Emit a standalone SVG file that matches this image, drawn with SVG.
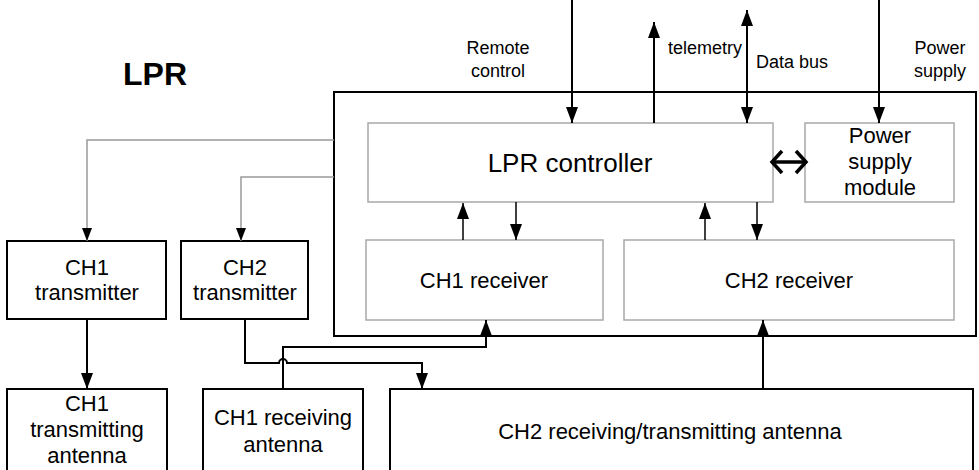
<svg xmlns="http://www.w3.org/2000/svg" width="979" height="470" viewBox="0 0 979 470">
  <style>
    text { font-family: "Liberation Sans", Arial, sans-serif; fill: #000; }
    .c { text-anchor: middle; }
    .t18 { font-size: 18px; }
    .t22 { font-size: 22px; }
    .outer { fill: #fff; stroke: #000; stroke-width: 2; }
    .inner { fill: #fff; stroke: #a8a8a8; stroke-width: 1.5; }
    .wire { fill: none; stroke: #000; stroke-width: 2; }
    .thin { fill: none; stroke: #000; stroke-width: 1.5; }
    .gray { fill: none; stroke: #999; stroke-width: 1.5; }
  </style>
  <defs>
    <marker id="ah" markerUnits="userSpaceOnUse" markerWidth="16" markerHeight="12" refX="16" refY="6" orient="auto-start-reverse">
      <path d="M0,0 L16,6 L0,12 z" fill="#000"/>
    </marker>
    <marker id="ahs" markerUnits="userSpaceOnUse" markerWidth="13" markerHeight="10" refX="13" refY="5" orient="auto">
      <path d="M0,0 L13,5 L0,10 z" fill="#000"/>
    </marker>
  </defs>

  <rect width="979" height="470" fill="#fff"/>

  <text x="155" y="85" class="c" font-size="32" font-weight="bold">LPR</text>

  <!-- LPR enclosure -->
  <g id="lpr">
    <rect x="334" y="92" width="642" height="244" class="outer"/>
  </g>

  <g id="controller">
    <rect x="368" y="123" width="405" height="79" class="inner"/>
    <text x="570" y="172" class="c" font-size="26">LPR controller</text>
  </g>

  <g id="power-module">
    <rect x="805" y="123" width="149" height="79" class="inner"/>
    <text x="880" y="143" class="c t22">Power</text>
    <text x="880" y="169" class="c t22">supply</text>
    <text x="880" y="195" class="c t22">module</text>
  </g>

  <g id="ch1-receiver">
    <rect x="366" y="240" width="237" height="80" class="inner"/>
    <text x="484" y="288" class="c t22">CH1 receiver</text>
  </g>

  <g id="ch2-receiver">
    <rect x="624" y="240" width="330" height="80" class="inner"/>
    <text x="789" y="288" class="c t22">CH2 receiver</text>
  </g>

  <g id="ch1-transmitter">
    <rect x="7" y="241" width="159" height="78" class="outer"/>
    <text x="87" y="275" class="c t22">CH1</text>
    <text x="87" y="300" class="c t22">transmitter</text>
  </g>

  <g id="ch2-transmitter">
    <rect x="181" y="241" width="127" height="78" class="outer"/>
    <text x="245" y="275" class="c t22">CH2</text>
    <text x="245" y="300" class="c t22">transmitter</text>
  </g>

  <g id="ch1-tx-antenna">
    <rect x="7" y="389" width="160" height="90" class="outer"/>
    <text x="87" y="411" class="c t22">CH1</text>
    <text x="87" y="437" class="c t22">transmitting</text>
    <text x="87" y="463" class="c t22">antenna</text>
  </g>

  <g id="ch1-rx-antenna">
    <rect x="203" y="389" width="160" height="90" class="outer"/>
    <text x="283" y="425" class="c t22">CH1 receiving</text>
    <text x="283" y="452" class="c t22">antenna</text>
  </g>

  <g id="ch2-antenna">
    <rect x="390" y="389" width="583" height="90" class="outer"/>
    <text x="670" y="439" class="c t22">CH2 receiving/transmitting antenna</text>
  </g>

  <!-- external signal labels -->
  <g id="labels">
    <text x="498" y="54" class="c t18">Remote</text>
    <text x="498" y="77" class="c t18">control</text>
    <text x="668" y="54" class="t18">telemetry</text>
    <text x="756" y="68" class="t18">Data bus</text>
    <text x="940" y="54" class="c t18">Power</text>
    <text x="940" y="77" class="c t18">supply</text>
  </g>

  <g id="connectors">
    <!-- external interfaces -->
    <path d="M572,0 V123" class="wire" marker-end="url(#ah)"/>
    <path d="M654,123 V22" class="wire" marker-end="url(#ah)"/>
    <path d="M747,10 V123" class="wire" marker-start="url(#ah)" marker-end="url(#ah)"/>
    <path d="M879,0 V123" class="wire" marker-end="url(#ah)"/>

    <!-- controller <-> power supply module -->
    <path d="M773,162 H805" fill="none" stroke="#000" stroke-width="3.5"/>
    <path d="M782,151 L772,162 L782,173" fill="none" stroke="#000" stroke-width="3.5"/>
    <path d="M796,151 L806,162 L796,173" fill="none" stroke="#000" stroke-width="3.5"/>

    <!-- controller <-> receivers -->
    <path d="M463,240 V203" class="thin" marker-end="url(#ah)"/>
    <path d="M516,202 V240" class="thin" marker-end="url(#ah)"/>
    <path d="M705,240 V203" class="thin" marker-end="url(#ah)"/>
    <path d="M757,202 V240" class="thin" marker-end="url(#ah)"/>

    <!-- controller -> transmitters -->
    <path d="M334,140 H87 V241" class="gray" marker-end="url(#ahs)"/>
    <path d="M334,177 H241 V241" class="gray" marker-end="url(#ahs)"/>

    <!-- transmitter / antenna links -->
    <path d="M87,319 V389" class="wire" marker-end="url(#ah)"/>
    <path d="M245,319 V363 H279 A4,4 0 0 1 287,363 H422 V389" class="wire" marker-end="url(#ah)"/>
    <path d="M283,389 V347 H486 V320" class="wire" marker-end="url(#ah)"/>
    <path d="M763,389 V320" class="wire" marker-end="url(#ah)"/>
  </g>
</svg>
